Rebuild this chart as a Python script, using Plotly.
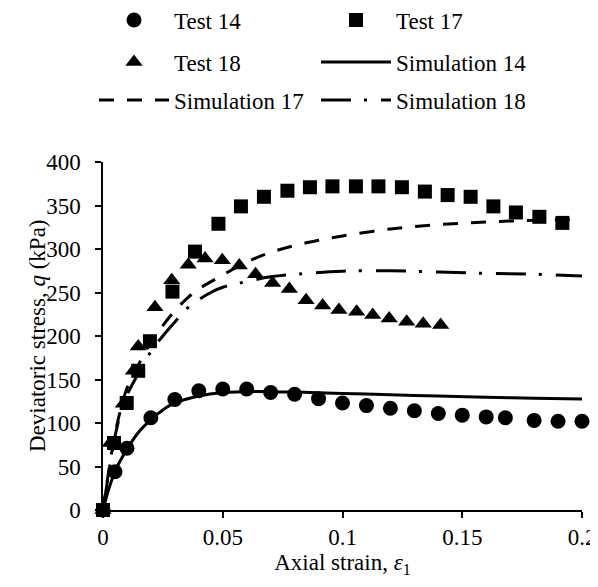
import plotly.graph_objects as go

# ---------------- data ----------------
test14_x = [0, 0.005, 0.01, 0.02, 0.03, 0.04, 0.05, 0.06, 0.07, 0.08, 0.09, 0.1,
            0.11, 0.12, 0.13, 0.14, 0.15, 0.16, 0.168, 0.18, 0.19, 0.2]
test14_y = [0, 44, 71, 106, 127, 137, 139, 139, 135, 133, 128, 123,
            120, 117, 114, 111, 109, 107, 106, 103, 102, 102]

test17_x = [0, 0.0046, 0.0099, 0.0147, 0.0196, 0.029, 0.0384, 0.0482, 0.0576, 0.0672,
            0.077, 0.0864, 0.0958, 0.1056, 0.115, 0.1248, 0.1344, 0.1439, 0.1535,
            0.163, 0.1724, 0.1822, 0.1918]
test17_y = [0, 77, 123, 160, 194, 251, 297, 329, 349, 360,
            367, 371, 372, 372, 372, 371, 366, 362, 360,
            349, 342, 337, 330]

test18_x = [0, 0.003, 0.0085, 0.0127, 0.0147, 0.0217, 0.0287, 0.0356, 0.0426, 0.0498,
            0.0569, 0.0637, 0.0708, 0.0778, 0.0848, 0.0917, 0.0985, 0.1059, 0.1126,
            0.1195, 0.1268, 0.1337, 0.141]
test18_y = [0, 77, 122, 160, 188, 233, 264, 282, 289, 287,
            281, 271, 261, 254, 241, 235, 230, 228, 224,
            220, 216.5, 214, 212.6]

sim14_x = [0, 0.0025, 0.005, 0.0075, 0.01, 0.015, 0.02, 0.025, 0.03, 0.04, 0.05,
           0.06, 0.07, 0.08, 0.1, 0.12, 0.14, 0.16, 0.18, 0.2]
sim14_y = [0, 25, 44, 58, 70, 90, 104, 115, 123, 131, 135,
           136, 136, 135.5, 134, 132.5, 131, 129.5, 128.5, 127.5]

sim17_x = [0, 0.002, 0.004, 0.006, 0.008, 0.01, 0.015, 0.02, 0.025, 0.03, 0.035,
           0.04, 0.05, 0.06, 0.07, 0.08, 0.09, 0.1, 0.12, 0.14, 0.16, 0.18, 0.2]
sim17_y = [0, 38, 72, 100, 122, 140, 168, 193, 212, 229, 243,
           254, 270, 285, 296, 304, 310, 315, 323, 328, 331, 333, 334]

sim18_x = [0, 0.002, 0.004, 0.006, 0.008, 0.01, 0.015, 0.02, 0.025, 0.03, 0.036,
           0.045, 0.05, 0.059, 0.07, 0.085, 0.1, 0.12, 0.14, 0.16, 0.18, 0.2]
sim18_y = [0, 36, 70, 97, 117, 132, 158, 182, 200, 216, 234,
           250, 256, 262, 268, 272, 274.5, 275, 273.5, 272, 271, 269]

x_ticks = [0, 0.05, 0.1, 0.15, 0.2]
x_ticktext = ["0", "0.05", "0.1", "0.15", "0.2"]
y_ticks = [0, 50, 100, 150, 200, 250, 300, 350, 400]

# ---------------- figure ----------------
FONT = "Liberation Serif, Times New Roman, serif"
BLACK = "black"

fig = go.Figure()

# simulation lines (drawn first, below markers)
fig.add_trace(go.Scatter(x=sim14_x, y=sim14_y, mode="lines", name="Simulation 14",
                         line=dict(color=BLACK, width=3, shape="spline"),
                         legend="legend2", legendrank=2))
fig.add_trace(go.Scatter(x=sim17_x, y=sim17_y, mode="lines", name="Simulation 17",
                         line=dict(color=BLACK, width=3, shape="spline", dash="15px,13px"),
                         legend="legend3", legendrank=1))
fig.add_trace(go.Scatter(x=sim18_x, y=sim18_y, mode="lines", name="Simulation 18",
                         line=dict(color=BLACK, width=3, shape="spline",
                                   dash="30px,13px,3px,14px"),
                         legend="legend3", legendrank=2))

# test markers
fig.add_trace(go.Scatter(x=test14_x, y=test14_y, mode="markers", name="Test 14",
                         marker=dict(symbol="circle", size=15, color=BLACK),
                         cliponaxis=False, legend="legend", legendrank=1))
fig.add_trace(go.Scatter(x=test17_x, y=test17_y, mode="markers", name="Test 17",
                         marker=dict(symbol="square", size=14, color=BLACK),
                         cliponaxis=False, legend="legend", legendrank=2))
fig.add_trace(go.Scatter(x=test18_x, y=test18_y, mode="markers", name="Test 18",
                         marker=dict(symbol="triangle-up", size=15, color=BLACK),
                         cliponaxis=False, legend="legend2", legendrank=1))

# page body adds an 8px margin, so the figure is 8px smaller than the window
W, H = 590, 579


def leg(ypix):
    return dict(orientation="h", xref="container", yref="container",
                x=86 / W, y=1 - ypix / H, xanchor="left", yanchor="middle",
                itemwidth=70, entrywidth=137, font=dict(family=FONT, size=23, color=BLACK),
                bgcolor="rgba(0,0,0,0)", traceorder="normal", itemclick=False)


fig.update_layout(
    width=W, height=H,
    margin=dict(l=95, r=16, t=154, b=77, autoexpand=False),
    paper_bgcolor="white", plot_bgcolor="white",
    font=dict(family=FONT, size=23, color=BLACK),
    showlegend=True,
    legend=leg(12),
    legend2=leg(54),
    legend3=leg(92),
    xaxis=dict(range=[0, 0.2], tickvals=x_ticks, ticktext=x_ticktext,
               automargin=False,
               showgrid=False, zeroline=False, showline=True, linecolor=BLACK,
               linewidth=1.5, ticks="outside", ticklen=6, tickwidth=1.5,
               tickcolor=BLACK, tickfont=dict(family=FONT, size=23, color=BLACK),
               title=dict(text="Axial strain, <i>ε</i><sub>1</sub>",
                          font=dict(family=FONT, size=23, color=BLACK), standoff=1)),
    yaxis=dict(range=[0, 400], tickvals=y_ticks, automargin=False,
               showgrid=False, zeroline=False, showline=True, linecolor=BLACK,
               linewidth=1.5, ticks="outside", ticklen=6, tickwidth=1.5,
               tickcolor=BLACK, tickfont=dict(family=FONT, size=23, color=BLACK),
               ticklabelstandoff=10),
    annotations=[dict(text="Deviatoric stress, <i>q</i> (kPa)", xref="paper", yref="paper",
                      x=-66 / 479, y=0.5, xanchor="center", yanchor="middle",
                      textangle=-90, showarrow=False,
                      font=dict(family=FONT, size=23, color=BLACK))],
)

fig.write_html("out.html")
